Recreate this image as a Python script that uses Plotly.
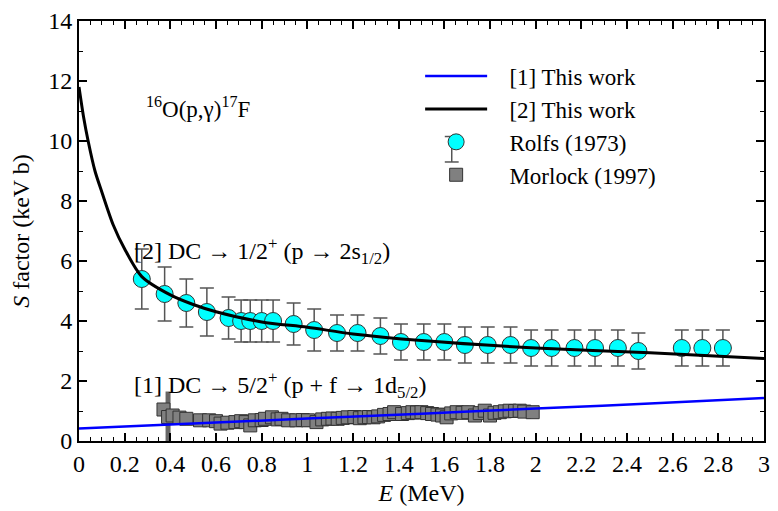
import plotly.graph_objects as go

# Rolfs (1973)
rolfs_E = [0.275, 0.375, 0.47, 0.56, 0.655, 0.71, 0.75, 0.80, 0.85, 0.94, 1.03,
           1.13, 1.22, 1.32, 1.41, 1.51, 1.60, 1.69, 1.79, 1.89, 1.98, 2.07,
           2.17, 2.26, 2.36, 2.45, 2.64, 2.73, 2.82]
rolfs_S = [5.4, 4.9, 4.6, 4.3, 4.1, 4.0, 4.0, 4.0, 4.0, 3.9, 3.7,
           3.6, 3.6, 3.5, 3.3, 3.3, 3.3, 3.2, 3.2, 3.2, 3.1, 3.1,
           3.1, 3.1, 3.1, 3.0, 3.1, 3.1, 3.1]
rolfs_err = [1.0, 0.9, 0.8, 0.8, 0.7, 0.7, 0.7, 0.7, 0.7, 0.7, 0.7,
             0.6, 0.6, 0.6, 0.6, 0.6, 0.6, 0.6, 0.6, 0.6, 0.6, 0.6,
             0.6, 0.6, 0.6, 0.6, 0.6, 0.6, 0.6]

# Morlock (1997)
morlock_E = [0.37, 0.39, 0.41, 0.44, 0.47, 0.53, 0.57, 0.60, 0.62, 0.65, 0.685,
             0.71, 0.73, 0.75, 0.77, 0.80, 0.815, 0.845, 0.87, 0.887, 0.916, 0.952,
             0.98, 1.003, 1.04, 1.065, 1.09, 1.11, 1.133, 1.155, 1.177, 1.206, 1.23,
             1.25, 1.27, 1.29, 1.31, 1.336, 1.36, 1.38, 1.415, 1.44, 1.46, 1.48,
             1.50, 1.525, 1.546, 1.57, 1.59, 1.61, 1.63, 1.654, 1.68, 1.705, 1.734,
             1.755, 1.777, 1.80, 1.82, 1.843, 1.865, 1.886, 1.91, 1.93, 1.95, 1.987]
morlock_S = [1.05, 0.80, 0.85, 0.78, 0.74, 0.69, 0.69, 0.66, 0.58, 0.61, 0.63,
             0.66, 0.63, 0.52, 0.69, 0.70, 0.74, 0.79, 0.72, 0.74, 0.69, 0.69,
             0.70, 0.69, 0.63, 0.72, 0.74, 0.75, 0.74, 0.77, 0.79, 0.80, 0.76,
             0.79, 0.80, 0.79, 0.82, 0.87, 0.90, 0.96, 0.90, 0.93, 0.96, 0.95,
             0.96, 0.93, 0.90, 0.88, 0.85, 0.79, 0.92, 0.96, 0.94, 0.96, 0.85,
             0.93, 1.01, 0.85, 0.94, 0.96, 0.99, 1.01, 1.00, 1.01, 0.98, 0.96]
morlock_err = [0.0, 0.85, 0.0, 0.0, 0.0] + [0.0] * (len(morlock_E) - 5)

# [1] This work (5/2+)
curve1_E = [0.0, 0.5, 1.0, 1.5, 2.0, 2.5, 3.0]
curve1_S = [0.42, 0.58, 0.75, 0.91, 1.08, 1.25, 1.43]

# [2] This work (1/2+)
curve2_E = [0.0, 0.02, 0.04, 0.07, 0.1, 0.15, 0.2, 0.275, 0.4, 0.5, 0.6, 0.8, 1.0,
            1.2, 1.5, 2.0, 2.5, 3.0]
curve2_S = [11.8, 10.8, 10.0, 9.0, 8.3, 7.2, 6.4, 5.48, 4.87, 4.55, 4.31, 3.97, 3.79,
            3.57, 3.35, 3.10, 2.94, 2.75]

FONT = "Liberation Serif"
NB = "\u00a0\u00a0\u00a0"

fig = go.Figure()

fig.add_trace(go.Scatter(
    x=rolfs_E, y=rolfs_S, mode="markers", name=NB + "Rolfs (1973)",
    marker=dict(symbol="circle", size=17, color="#00FFFF",
                line=dict(color="#333333", width=1)),
    error_y=dict(type="data", array=rolfs_err, visible=True,
                 color="#555555", thickness=1.5, width=7),
    legendrank=3,
))

fig.add_trace(go.Scatter(
    x=morlock_E, y=morlock_S, mode="markers", name=NB + "Morlock (1997)",
    marker=dict(symbol="square", size=13, color="#808080",
                line=dict(color="#333333", width=1)),
    error_y=dict(type="data", array=morlock_err, visible=True,
                 color="#666666", thickness=5, width=0),
    legendrank=4,
))

fig.add_trace(go.Scatter(
    x=curve1_E, y=curve1_S, mode="lines", name=NB + "[1] This work",
    line=dict(color="#0000FF", width=2.5, shape="spline"),
    legendrank=1,
))

fig.add_trace(go.Scatter(
    x=curve2_E, y=curve2_S, mode="lines", name=NB + "[2] This work",
    line=dict(color="black", width=3, shape="spline", smoothing=0.8),
    legendrank=2,
))

axis_common = dict(
    showline=True, linecolor="black", linewidth=2, mirror="allticks",
    ticks="inside", ticklen=8, tickwidth=1.5, tickcolor="black",
    showgrid=False, zeroline=False, ticklabeloverflow="allow",
    tickfont=dict(family=FONT, size=24, color="black"),
)

fig.update_xaxes(
    range=[0, 3], dtick=0.2, tick0=0, **axis_common,
    minor=dict(dtick=0.05, ticks="inside", ticklen=4, tickcolor="black", tickwidth=1),
    title=dict(text="<i>E</i> (MeV)", font=dict(family=FONT, size=24, color="black"),
               standoff=8),
    tickformat="~g",
)
fig.update_yaxes(
    range=[0, 14], dtick=2, tick0=0, **axis_common,
    minor=dict(dtick=1, ticks="inside", ticklen=4, tickcolor="black", tickwidth=1),
    title=dict(text="<i>S</i> factor (keV b)", font=dict(family=FONT, size=24, color="black"),
               standoff=12),
)

fig.add_annotation(x=0.285, y=11.13, xref="x", yref="y", xanchor="left", yanchor="middle",
                   text="<sup>16</sup>O(p,γ)<sup>17</sup>F", showarrow=False,
                   font=dict(family=FONT, size=23, color="black"))
fig.add_annotation(x=0.232, y=6.35, xref="x", yref="y", xanchor="left", yanchor="middle",
                   text="[2] DC → 1/2<sup>+</sup> (p → 2s<sub>1/2</sub>)", showarrow=False,
                   font=dict(family=FONT, size=24, color="black"))
fig.add_annotation(x=0.232, y=1.86, xref="x", yref="y", xanchor="left", yanchor="middle",
                   text="[1] DC → 5/2<sup>+</sup> (p + f → 1d<sub>5/2</sub>)", showarrow=False,
                   font=dict(family=FONT, size=24, color="black"))

# error-bar glyph for the Rolfs legend entry (legend decoration, paper coords)
W, H, L, T, PH, PW = 778, 511, 79, 12, 429, 691
cx, cy, half, cap = 455.0, 143.0, 13.0, 7.0
px = lambda v: (v - L) / PW
py = lambda v: (T + PH - v) / PH
glyph = dict(type="line", xref="paper", yref="paper", layer="above",
             line=dict(color="#555555", width=1.5))
fig.add_shape(x0=px(cx), x1=px(cx), y0=py(cy - half), y1=py(cy + half), **glyph)
fig.add_shape(x0=px(cx - cap), x1=px(cx + cap), y0=py(cy - half), y1=py(cy - half), **glyph)
fig.add_shape(x0=px(cx - cap), x1=px(cx + cap), y0=py(cy + half), y1=py(cy + half), **glyph)

fig.update_layout(
    width=W, height=H,
    margin=dict(l=L, r=8, t=T, b=70),
    plot_bgcolor="white", paper_bgcolor="white",
    font=dict(family=FONT, size=22, color="black"),
    showlegend=True,
    legend=dict(x=0.498, y=0.92, xanchor="left", yanchor="top",
                bgcolor="rgba(0,0,0,0)", borderwidth=0,
                font=dict(family=FONT, size=23, color="black"),
                itemwidth=62, tracegroupgap=0),
)

fig.write_html("out.html")
